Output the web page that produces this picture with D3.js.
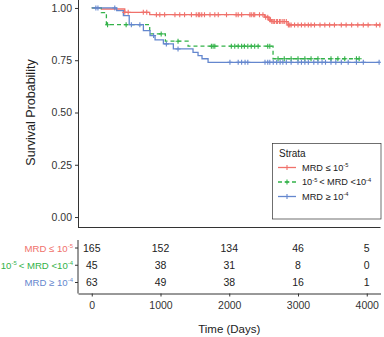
<!DOCTYPE html>
<meta charset="utf-8">
<script src="https://d3js.org/d3.v7.min.js"></script>
<style>
  body { margin: 0; }
  text { font-family: "Liberation Sans", Arial, sans-serif; }
</style>
<svg id="km" width="384" height="337"></svg>
<script>

    // Kaplan-Meier steps per stratum (time in days, survival)
    var redTimes   = [0, 140, 480, 843, 2516, 2575, 2612, 2855];
    var redSurv    = [1, 0.995, 0.979, 0.968, 0.956, 0.943, 0.935, 0.919];
    var greenTimes = [0, 140, 213, 843, 1071, 1401, 2637];
    var greenSurv  = [1, 0.978, 0.920, 0.876, 0.841, 0.817, 0.757];
    var blueTimes  = [0, 363, 460, 545, 751, 848, 921, 1042, 1187, 1473, 1546, 1604, 1692];
    var blueSurv   = [1, 0.987, 0.963, 0.920, 0.892, 0.868, 0.847, 0.828, 0.804, 0.788, 0.772, 0.757, 0.740];

    // censored observations
    var redCensor = [480, 530, 750, 800, 940, 990, 1060, 1210, 1280, 1350, 1450, 1520, 1550, 1570, 1600,
        1640, 1720, 1790, 1840, 1960, 2100, 2130, 2180, 2300, 2320, 2350, 2370, 2440, 2490, 2530, 2560,
        2590, 2600, 2620, 2640, 2660, 2690, 2700, 2730, 2750, 2780, 2800, 2830, 2860, 2880, 2900, 2950,
        3000, 3050, 3100, 3150, 3190, 3240, 3320, 3390, 3460, 3530, 3630, 3700, 3780, 3870, 3950, 4020,
        4140, 4190];
    var greenCensor = [230, 500, 1010, 1255, 1740, 1765, 1790, 2030, 2080, 2130, 2180, 2220, 2270, 2320,
        2370, 2420, 2560, 2590, 2710, 2800, 2900, 3000, 3100, 3190, 3290, 3480, 3580, 3680, 3850, 3890];
    var blueCensor = [60, 90, 335, 576, 700, 900, 1085, 1255, 2010, 2130, 2180, 2230, 2270, 2520, 2560,
        2590, 2640, 2690, 2740, 2780, 2830, 2900, 3000, 3050, 3100, 3150, 3230, 3290, 3350, 3400, 3480,
        3550, 3630, 3730, 3850, 3950, 4180];

    // number at risk table
    var riskTimes = [0, 1000, 2000, 3000, 4000];
    var riskRed   = [165, 152, 134, 46, 5];
    var riskGreen = [45, 38, 31, 8, 0];
    var riskBlue  = [63, 49, 38, 16, 1];

    var yTicks = [0, 0.25, 0.5, 0.75, 1];

    // labels with superscripts: [text, isSup]
    var labelRed   = [["MRD \u2264 10", 0], ["-5", 1]];
    var labelGreen = [["10", 0], ["-5", 1], ["< MRD <10", 0], ["-4", 1]];
    var labelBlue  = [["MRD \u2265 10", 0], ["-4", 1]];

    const strata = [
        {times: redTimes, surv: redSurv, censor: redCensor, risk: riskRed, label: labelRed, color: "#F0716B", dash: null},
        {times: greenTimes, surv: greenSurv, censor: greenCensor, risk: riskGreen, label: labelGreen, color: "#33B249", dash: "4,3"},
        {times: blueTimes, surv: blueSurv, censor: blueCensor, risk: riskBlue, label: labelBlue, color: "#6487CE", dash: null}
    ];

    const svg = d3.select("#km");
    const axisCol = "#333";

    const x = d3.scaleLinear().domain([-200, 4200]).range([78, 380.5]);
    const y = d3.scaleLinear().domain([-0.05, 1.05]).range([227.5, -2.5]);

    const survAt = (s, t) => {
        let v = s.surv[0];
        for (let i = 0; i < s.times.length; i++) if (s.times[i] <= t) v = s.surv[i];
        return v;
    };

    // write a label made of normal and superscript pieces
    const addLabel = (sel, parts, size) => {
        parts.forEach((p, i) => {
            const prevSup = i > 0 && parts[i - 1][1];
            sel.append("tspan")
                .attr("font-size", p[1] ? size * 0.62 : size)
                .attr("dy", p[1] ? -size * 0.4 : (prevSup ? size * 0.4 : 0))
                .attr("dx", (!p[1] && prevSup) ? size * 0.2 : 0)
                .text(p[0]);
        });
    };

    svg.append("defs").append("clipPath").attr("id", "panel")
        .append("rect").attr("x", 78).attr("y", -3).attr("width", 303).attr("height", 231);

    // survival curves
    const curves = svg.append("g").attr("clip-path", "url(#panel)");
    strata.forEach(s => {
        const tEnd = d3.max(s.censor.concat(s.times));
        const pts = s.times.map((t, i) => [t, s.surv[i]]);
        pts.push([tEnd, s.surv[s.surv.length - 1]]);
        curves.append("path")
            .attr("d", d3.line().x(d => x(d[0])).y(d => y(d[1])).curve(d3.curveStepAfter)(pts))
            .attr("fill", "none")
            .attr("stroke", s.color)
            .attr("stroke-width", 1.3)
            .attr("stroke-dasharray", s.dash);
    });
    // censor marks
    strata.forEach(s => {
        curves.append("g").selectAll("path")
            .data(s.censor)
            .enter().append("path")
                .attr("d", t => {
                    const cx = x(t), cy = y(survAt(s, t));
                    return `M${cx - 2.5},${cy}H${cx + 2.5}M${cx},${cy - 2.5}V${cy + 2.5}`;
                })
                .attr("stroke", s.color)
                .attr("stroke-width", 1.1);
    });

    // main axes
    const yAxis = svg.append("g").attr("transform", "translate(78,0)")
        .call(d3.axisLeft(y).tickValues(yTicks).tickFormat(d3.format(".2f")).tickSize(3).tickSizeOuter(0).tickPadding(3));
    yAxis.select(".domain").attr("stroke", axisCol);
    yAxis.selectAll(".tick line").attr("stroke", axisCol);
    yAxis.selectAll("text").attr("font-size", 10.5).attr("fill", "#333");

    svg.append("line").attr("x1", 78).attr("x2", 380.5).attr("y1", y(-0.05)).attr("y2", y(-0.05))
        .attr("stroke", axisCol);

    svg.append("text")
        .attr("transform", `translate(35,${y(0.5)}) rotate(-90)`)
        .attr("text-anchor", "middle")
        .attr("font-size", 12.5)
        .attr("fill", "#222")
        .text("Survival Probability");

    // legend
    const lg = svg.append("g");
    lg.append("rect").attr("x", 272.5).attr("y", 143.5).attr("width", 108.5).attr("height", 75.5)
        .attr("fill", "#fff").attr("stroke", "#333").attr("stroke-width", 0.7);
    lg.append("text").attr("x", 279).attr("y", 157).attr("font-size", 10).attr("fill", "#222").text("Strata");
    strata.forEach((s, i) => {
        const ly = 167.5 + i * 14.5;
        lg.append("line").attr("x1", 278).attr("x2", 296).attr("y1", ly).attr("y2", ly)
            .attr("stroke", s.color).attr("stroke-width", 1.3).attr("stroke-dasharray", s.dash);
        lg.append("path").attr("d", `M284.5,${ly}H289.5M287,${ly - 2.5}V${ly + 2.5}`)
            .attr("stroke", s.color).attr("stroke-width", 1.1);
        addLabel(lg.append("text").attr("x", 302).attr("y", ly + 3.3).attr("fill", "#222"), s.label, 9.2);
    });

    // number at risk table
    const row = d3.scalePoint().domain([0, 1, 2]).range([248, 282.5]);
    const tbl = svg.append("g");
    strata.forEach((s, i) => {
        tbl.append("g").selectAll("text")
            .data(s.risk)
            .enter().append("text")
                .attr("x", (d, j) => x(riskTimes[j]))
                .attr("y", row(i) + 3.8)
                .attr("text-anchor", "middle")
                .attr("font-size", 10.5)
                .attr("fill", "#222")
                .text(d => d);
        addLabel(tbl.append("text").attr("x", 73).attr("y", row(i) + 3.6)
            .attr("text-anchor", "end").attr("fill", s.color), s.label, 9.6);
        tbl.append("line").attr("x1", 75).attr("x2", 78).attr("y1", row(i)).attr("y2", row(i))
            .attr("stroke", axisCol);
    });
    tbl.append("line").attr("x1", 78).attr("x2", 78).attr("y1", 240).attr("y2", 293.5).attr("stroke", axisCol);

    const xAxis = svg.append("g").attr("transform", "translate(0,293.5)")
        .call(d3.axisBottom(x).tickValues(riskTimes).tickFormat(d3.format("d")).tickSize(3).tickSizeOuter(0).tickPadding(5));
    xAxis.select(".domain").attr("stroke", axisCol);
    xAxis.selectAll(".tick line").attr("stroke", axisCol);
    xAxis.selectAll("text").attr("font-size", 10.5).attr("fill", "#333");

    svg.append("text")
        .attr("x", (78 + 380.5) / 2)
        .attr("y", 333)
        .attr("text-anchor", "middle")
        .attr("font-size", 11.5)
        .attr("fill", "#222")
        .text("Time (Days)");

</script>
